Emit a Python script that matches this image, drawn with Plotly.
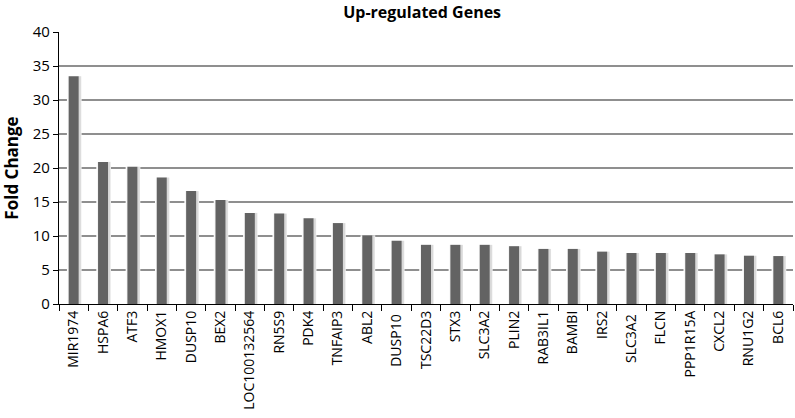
import plotly.graph_objects as go

genes = ["MIR1974", "HSPA6", "ATF3", "HMOX1", "DUSP10", "BEX2", "LOC100132564",
         "RN5S9", "PDK4", "TNFAIP3", "ABL2", "DUSP10 ", "TSC22D3", "STX3", "SLC3A2",
         "PLIN2", "RAB3IL1", "BAMBI", "IRS2", "SLC3A2 ", "FLCN", "PPP1R15A",
         "CXCL2", "RNU1G2", "BCL6"]
fold_change = [33.5, 20.9, 20.2, 18.6, 16.6, 15.3, 13.4, 13.3, 12.6, 11.9, 10.1,
               9.3, 8.7, 8.7, 8.7, 8.5, 8.1, 8.1, 7.7, 7.5, 7.5, 7.5, 7.3, 7.1, 7.05]
y_ticks = [0, 5, 10, 15, 20, 25, 30, 35, 40]

font = "Open Sans, Liberation Sans, Arial, sans-serif"

fig = go.Figure()
# white halo that interrupts the gridlines around each bar
fig.add_trace(go.Bar(x=genes, y=fold_change, width=0.5, offset=-0.23,
                     marker=dict(color="white", line=dict(width=0)),
                     hoverinfo="skip", showlegend=False))
# faint shadow on both sides, stronger on the right
fig.add_trace(go.Bar(x=genes, y=fold_change, width=0.44, offset=-0.2,
                     marker=dict(color="rgba(0,0,0,0.05)", line=dict(width=0)),
                     hoverinfo="skip", showlegend=False))
fig.add_trace(go.Bar(x=genes, y=fold_change, width=0.1, offset=0.16,
                     marker=dict(color="rgba(0,0,0,0.10)", line=dict(width=0)),
                     hoverinfo="skip", showlegend=False))
fig.add_trace(go.Bar(x=genes, y=fold_change, width=0.34, offset=-0.17,
                     marker=dict(color="#636363", line=dict(width=0)),
                     showlegend=False))

fig.update_layout(
    width=795, height=418,
    margin=dict(l=59, r=2, t=32, b=114, autoexpand=False),
    paper_bgcolor="white", plot_bgcolor="white",
    barmode="overlay",
    title=dict(text="<b>Up-regulated Genes</b>", x=0.531, xanchor="center",
               y=0.970, yanchor="middle", font=dict(family=font, size=16, color="black")),
    font=dict(family=font, color="black"),
)
fig.update_xaxes(
    type="category", tickangle=-90, tickson="boundaries",
    ticks="outside", ticklen=6, tickcolor="black",
    showline=True, linecolor="black", linewidth=1.2,
    tickfont=dict(family=font, size=14, color="black"),
    showgrid=False, automargin=False,
)
fig.update_yaxes(
    range=[0, 40], tickvals=y_ticks,
    ticks="outside", ticklen=5, tickcolor="black",
    showline=True, linecolor="black", linewidth=1.2,
    showgrid=True, gridcolor="#8f8f8f", gridwidth=1.5,
    tickfont=dict(family=font, size=15, color="black"),
    title=dict(text="<b>Fold Change</b>", font=dict(family=font, size=17, color="black"), standoff=10),
    zeroline=False, automargin=False,
)

fig.write_html("out.html", post_script="document.body.style.margin='0';",
               config={"displayModeBar": False})
